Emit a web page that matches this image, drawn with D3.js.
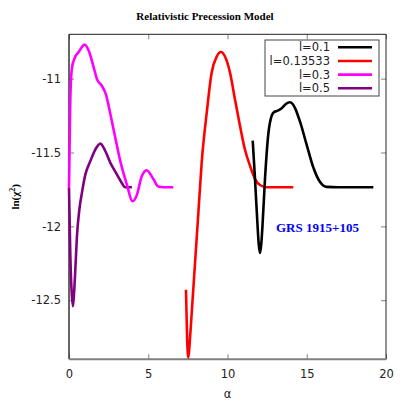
<!DOCTYPE html>
<html><head><meta charset="utf-8">
<script src="https://cdn.jsdelivr.net/npm/d3@7"></script>
<style>html,body{margin:0;padding:0;background:#fff;}</style>
</head><body><svg id="c" width="409" height="409"></svg>
<script>
const xTicks = [0, 5, 10, 15, 20];
const yTicks = [-12.5, -12, -11.5, -11];
const seriesNames = ["l=0.1", "l=0.13533", "l=0.3", "l=0.5"];
const seriesColors = ["#000000", "#ff0000", "#ff00ff", "#800080"];

const black = [[11.59,-11.42],[11.73,-11.67],[11.88,-11.965],[11.97,-12.12],[12.05,-12.18],[12.13,-12.12],[12.2,-12.01],[12.37,-11.67],[12.57,-11.38],[12.79,-11.25],[12.95,-11.225],[13.1,-11.22],[13.42,-11.2],[13.7,-11.17],[13.94,-11.16],[14.1,-11.17],[14.26,-11.2],[14.57,-11.29],[15.0,-11.45],[15.41,-11.6],[15.84,-11.7],[16.26,-11.733],[17.0,-11.735],[19.2,-11.735]];
const red = [[7.38,-12.43],[7.45,-12.75],[7.53,-12.89],[7.62,-12.78],[7.74,-12.59],[7.95,-12.25],[8.16,-11.91],[8.37,-11.57],[8.69,-11.23],[9.0,-10.96],[9.32,-10.85],[9.59,-10.82],[9.84,-10.85],[10.16,-10.96],[10.47,-11.14],[10.79,-11.32],[11.1,-11.48],[11.42,-11.59],[11.74,-11.68],[12.05,-11.72],[12.47,-11.735],[14.15,-11.735]];
const magenta = [[0.0,-11.74],[0.04,-11.45],[0.08,-11.15],[0.19,-10.925],[0.36,-10.86],[0.61,-10.82],[0.99,-10.77],[1.24,-10.81],[1.56,-10.925],[1.77,-11.005],[2.08,-11.05],[2.33,-11.107],[2.61,-11.24],[2.92,-11.4],[3.24,-11.56],[3.66,-11.72],[4.0,-11.83],[4.29,-11.785],[4.56,-11.67],[4.9,-11.62],[5.32,-11.68],[5.63,-11.73],[6.0,-11.735],[6.58,-11.735]];
const purple = [[0.0,-11.74],[0.08,-12.18],[0.17,-12.45],[0.25,-12.54],[0.32,-12.45],[0.4,-12.29],[0.5,-12.07],[0.65,-11.89],[0.82,-11.77],[1.03,-11.65],[1.34,-11.56],[1.66,-11.48],[1.98,-11.44],[2.29,-11.49],[2.61,-11.57],[2.92,-11.63],[3.24,-11.69],[3.55,-11.735],[3.97,-11.735]];
const seriesData = [black, red, magenta, purple];

const svg = d3.select("#c");
const x = d3.scaleLinear().domain([0, 20]).range([69, 386]);
const y = d3.scaleLinear().domain([-12.9, -10.7]).range([359.3, 34.3]);
const tickFont = "DejaVu Sans, Verdana, sans-serif";

// axes
const gx = svg.append("g").attr("transform", `translate(0,${y.range()[0]})`)
  .call(d3.axisBottom(x).tickValues(xTicks).tickSize(-5).tickPadding(10.5).tickFormat(d3.format("d")));
const gy = svg.append("g").attr("transform", `translate(${x.range()[0]},0)`)
  .call(d3.axisLeft(y).tickValues(yTicks).tickSize(-5).tickPadding(8).tickFormat(d => String(d)));
const gt = svg.append("g").attr("transform", `translate(0,${y.range()[1]})`)
  .call(d3.axisTop(x).tickValues(xTicks).tickSize(-5).tickFormat(""));
const gr = svg.append("g").attr("transform", `translate(${x.range()[1]},0)`)
  .call(d3.axisRight(y).tickValues(yTicks).tickSize(-5).tickFormat(""));
[gx, gy, gt, gr].forEach(g => {
  g.select(".domain").remove();
  g.selectAll(".tick line").attr("stroke", "#808080").attr("stroke-width", 1);
  g.selectAll(".tick text").attr("font-family", tickFont).attr("font-size", "11.5px").attr("fill", "#222");
});

// frame
const [x0, x1] = x.range(), [yb, yt] = y.range();
svg.append("line").attr("x1", x0).attr("x2", x1).attr("y1", yt).attr("y2", yt).attr("stroke", "#222").attr("stroke-width", 1);
svg.append("line").attr("x1", x1).attr("x2", x1).attr("y1", yt).attr("y2", yb).attr("stroke", "#222").attr("stroke-width", 1);
svg.append("line").attr("x1", x0).attr("x2", x0).attr("y1", yt).attr("y2", yb).attr("stroke", "#333").attr("stroke-width", 1.5);
svg.append("line").attr("x1", x0).attr("x2", x1).attr("y1", yb).attr("y2", yb).attr("stroke", "#808080").attr("stroke-width", 2);

// curves
const line = d3.line().x(d => x(d[0])).y(d => y(d[1])).curve(d3.curveMonotoneX);
const order = [3, 2, 1, 0];
order.forEach(i => {
  svg.append("path").datum(seriesData[i]).attr("d", line)
    .attr("fill", "none").attr("stroke", seriesColors[i]).attr("stroke-width", 2.6)
    .attr("stroke-linejoin", "round");
});

// title and labels
svg.append("text").attr("x", 205).attr("y", 20).attr("text-anchor", "middle")
  .attr("font-family", "Liberation Serif, Times New Roman, serif").attr("font-weight", "bold").attr("font-size", "11px")
  .text("Relativistic Precession Model");
svg.append("text").attr("x", (x0 + x1) / 2).attr("y", 398).attr("text-anchor", "middle")
  .attr("font-family", tickFont).attr("font-size", "11.5px").attr("fill", "#222").text("α");
const yl = svg.append("text").attr("transform", `translate(19,${(yb + yt) / 2}) rotate(-90)`).attr("text-anchor", "middle")
  .attr("font-family", "Liberation Serif, Times New Roman, serif").attr("font-weight", "bold").attr("font-size", "11px");
yl.append("tspan").text("ln(χ");
yl.append("tspan").attr("dy", -4).attr("font-size", "8px").text("2");
yl.append("tspan").attr("dy", 4).text(")");

svg.append("text").attr("x", 276).attr("y", 232)
  .attr("font-family", "Liberation Serif, Times New Roman, serif").attr("font-weight", "bold").attr("font-size", "13px")
  .attr("fill", "#0000ff").text("GRS 1915+105");

// legend
svg.append("rect").attr("x", 265).attr("y", 40).attr("width", 114).attr("height", 56)
  .attr("fill", "#fff").attr("stroke", "#444").attr("stroke-width", 1);
seriesNames.forEach((n, i) => {
  const cy = 47.3 + i * 13.65;
  svg.append("text").attr("x", 330).attr("y", cy + 4).attr("text-anchor", "end")
    .attr("font-family", tickFont).attr("font-size", "11.5px").attr("fill", "#222").text(n);
  svg.append("line").attr("x1", 338).attr("x2", 372).attr("y1", cy).attr("y2", cy)
    .attr("stroke", seriesColors[i]).attr("stroke-width", 2.6);
});
</script></body></html>
